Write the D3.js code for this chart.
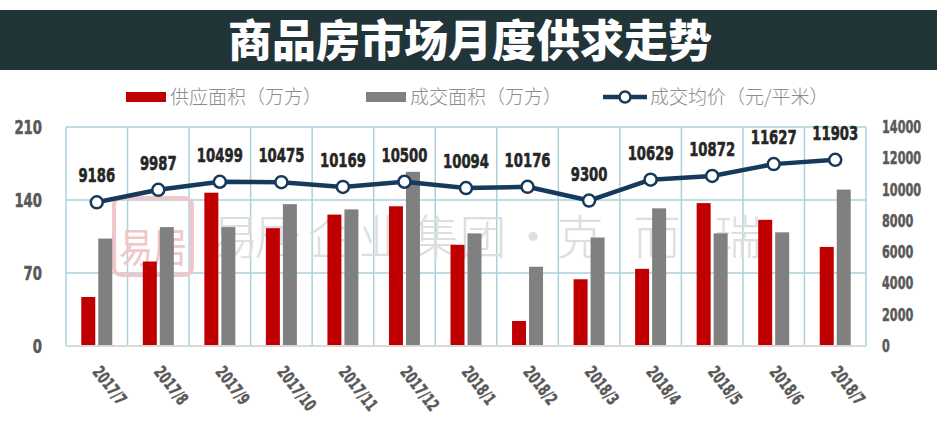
<!DOCTYPE html>
<html><head><meta charset="utf-8">
<script src="https://cdn.jsdelivr.net/npm/d3@7"></script>
<style>
html,body{margin:0;padding:0;background:#fff;}
svg{display:block;}
</style></head>
<body>
<svg id="chart" width="940" height="430"></svg>
<script>
const categories = ["2017/7","2017/8","2017/9","2017/10","2017/11","2017/12","2018/1","2018/2","2018/3","2018/4","2018/5","2018/6","2018/7"];
const supplyArea = [47, 81, 147, 113, 126, 134, 97, 24, 64, 74, 137, 121, 95];
const dealArea = [103, 114, 114, 136, 131, 167, 108, 76, 104, 132, 108, 109, 150];
const avgPrice = [9186, 9987, 10499, 10475, 10169, 10500, 10094, 10176, 9300, 10629, 10872, 11627, 11903];
const leftTicks = [0, 70, 140, 210];
const rightTicks = [0, 2000, 4000, 6000, 8000, 10000, 12000, 14000];
const title = "商品房市场月度供求走势";
const seriesNames = ["供应面积（万方）", "成交面积（万方）", "成交均价（元/平米）"];

const svg = d3.select("#chart");
const numFont = "'DejaVu Sans','Liberation Sans',sans-serif";
const cjkFont = "'Noto Sans CJK SC','Noto Sans',sans-serif";
const RED = "#c00000", GRAY = "#808080", NAVY = "#163a5c", GRID = "#abd1dc";

// measure digit width of the numeric font so it can be condensed like Impact
const probe = svg.append("text").attr("font-family", numFont).attr("font-weight", 700).attr("font-size", 100).text("0000000000");
const digitEm = probe.node().getComputedTextLength() / 1000;
probe.remove();
const sq = 0.46 / digitEm;

// title banner
svg.append("rect").attr("x", 0).attr("y", 10).attr("width", 937).attr("height", 60).attr("fill", "#213438");
svg.append("text").attr("x", 470).attr("y", 57).attr("text-anchor", "middle")
  .attr("fill", "#fff").attr("font-family", cjkFont).attr("font-weight", 900)
  .attr("font-size", 44).text(title);

const plot = {left: 66, right: 866, top: 127, bottom: 346};
const x = d3.scaleBand().domain(categories).range([plot.left, plot.right]).padding(0);
const inner = d3.scaleBand().domain(["supply", "deal"]).range([-15.5, 15.5]).paddingInner(0.176).paddingOuter(0);
const yL = d3.scaleLinear().domain([0, 210]).range([plot.bottom, plot.top]);
const yR = d3.scaleLinear().domain([0, 14000]).range([plot.bottom, plot.top]);

// grid
const g = svg.append("g");
g.selectAll(".hg").data(leftTicks.filter(d => d > 0)).enter().append("line")
  .attr("x1", plot.left).attr("x2", plot.right).attr("y1", d => yL(d)).attr("y2", d => yL(d))
  .attr("stroke", GRID).attr("stroke-width", 1.5);
const bounds = categories.map(c => x(c)).concat([plot.right]);
g.selectAll(".vg").data(bounds).enter().append("line")
  .attr("x1", d => d).attr("x2", d => d).attr("y1", plot.top).attr("y2", plot.bottom)
  .attr("stroke", GRID).attr("stroke-width", 1.5);

// watermark
const wm = svg.append("g");
wm.append("rect").attr("x", 114).attr("y", 198).attr("width", 78).attr("height", 77).attr("rx", 7)
  .attr("fill", "none").attr("stroke", "#f1c6c8").attr("stroke-width", 4);
wm.append("text").attr("transform", "translate(153,262) scale(0.85,1)").attr("text-anchor", "middle").attr("fill", "#f1c6c8")
  .attr("font-family", cjkFont).attr("font-weight", 400).attr("font-size", 40).text("易居");
const wmChars = ["易","居","企","业","集","团","·","克","而","瑞"];
const wmX = [235, 278, 331, 382, 436, 483, 533, 580, 657, 738];
wm.selectAll(".wc").data(wmChars).enter().append("text")
  .attr("x", (d, i) => wmX[i]).attr("y", 254).attr("text-anchor", "middle")
  .attr("fill", "#dedede").attr("font-family", cjkFont).attr("font-weight", 300)
  .attr("font-size", 47).text(d => d);

// bars
const bars = svg.append("g");
bars.selectAll(".rs").data(categories).enter().append("rect")
  .attr("x", (c) => x(c) + x.bandwidth() / 2 + inner("supply"))
  .attr("width", inner.bandwidth())
  .attr("y", (c, i) => yL(supplyArea[i])).attr("height", (c, i) => yL(0) - yL(supplyArea[i]))
  .attr("fill", RED);
bars.selectAll(".gs").data(categories).enter().append("rect")
  .attr("x", (c) => x(c) + x.bandwidth() / 2 + inner("deal"))
  .attr("width", inner.bandwidth())
  .attr("y", (c, i) => yL(dealArea[i])).attr("height", (c, i) => yL(0) - yL(dealArea[i]))
  .attr("fill", GRAY);

// bottom axis line
svg.append("line").attr("x1", plot.left).attr("x2", plot.right).attr("y1", plot.bottom).attr("y2", plot.bottom)
  .attr("stroke", "#d9d9d9").attr("stroke-width", 2);

// line
const cx = c => x(c) + x.bandwidth() / 2;
const line = d3.line().x((d, i) => cx(categories[i])).y(d => yR(d));
svg.append("path").datum(avgPrice).attr("d", line).attr("fill", "none")
  .attr("stroke", NAVY).attr("stroke-width", 4.5).attr("stroke-linejoin", "round");
svg.selectAll(".pt").data(avgPrice).enter().append("circle")
  .attr("cx", (d, i) => cx(categories[i])).attr("cy", d => yR(d)).attr("r", 6)
  .attr("fill", "#fff").attr("stroke", NAVY).attr("stroke-width", 2.5);
svg.selectAll(".pl").data(avgPrice).enter().append("text")
  .attr("transform", (d, i) => `translate(${cx(categories[i])},${yR(d) - 20}) scale(${sq},1)`)
  .attr("text-anchor", "middle")
  .attr("fill", "#262626").attr("stroke", "#262626").attr("stroke-width", 0.6)
  .attr("font-family", numFont).attr("font-weight", 700).attr("font-size", 20)
  .text(d => d);

// left axis
const axL = d3.axisLeft(yL).tickValues(leftTicks).tickSize(0).tickPadding(0).tickFormat(d3.format("d"));
const gL = svg.append("g").attr("transform", "translate(42,0)").call(axL);
gL.select(".domain").remove();
gL.selectAll("text").attr("transform", `scale(${sq},1)`)
  .attr("fill", "#595959").attr("stroke", "#595959").attr("stroke-width", 0.6)
  .attr("font-family", numFont).attr("font-weight", 700).attr("font-size", 20);

// right axis
const axR = d3.axisRight(yR).tickValues(rightTicks).tickSize(0).tickPadding(0).tickFormat(d3.format("d"));
const gR = svg.append("g").attr("transform", "translate(882,0)").call(axR);
gR.select(".domain").remove();
gR.selectAll("text").attr("transform", `scale(${sq},1)`)
  .attr("fill", "#595959").attr("stroke", "#595959").attr("stroke-width", 0.5)
  .attr("font-family", numFont).attr("font-weight", 700).attr("font-size", 17);

// x axis labels
const axB = d3.axisBottom(x).tickSize(0).tickPadding(0);
const gB = svg.append("g").call(axB);
gB.select(".domain").remove();
gB.selectAll(".tick").attr("transform", d => `translate(${cx(d) - 5},372)`);
gB.selectAll("text").attr("y", 0).attr("dy", 0).attr("transform", `rotate(52) scale(${sq},1)`).attr("text-anchor", "start")
  .attr("fill", "#595959").attr("stroke", "#595959").attr("stroke-width", 0.5)
  .attr("font-family", numFont).attr("font-weight", 700).attr("font-size", 17);

// legend
const lg = svg.append("g").attr("font-family", cjkFont).attr("font-size", 19).attr("fill", "#8c8c8c").attr("font-weight", 300);
lg.append("rect").attr("x", 126).attr("y", 92).attr("width", 40).attr("height", 10).attr("fill", RED);
lg.append("text").attr("x", 170).attr("y", 104).text(seriesNames[0]);
lg.append("rect").attr("x", 366).attr("y", 92).attr("width", 40).attr("height", 10).attr("fill", GRAY);
lg.append("text").attr("x", 410).attr("y", 104).text(seriesNames[1]);
lg.append("line").attr("x1", 603).attr("x2", 647).attr("y1", 97).attr("y2", 97).attr("stroke", NAVY).attr("stroke-width", 4.5);
lg.append("circle").attr("cx", 625).attr("cy", 97).attr("r", 5.5).attr("fill", "#fff").attr("stroke", NAVY).attr("stroke-width", 2.5);
lg.append("text").attr("x", 650).attr("y", 104).text(seriesNames[2]);
</script>
</body></html>
